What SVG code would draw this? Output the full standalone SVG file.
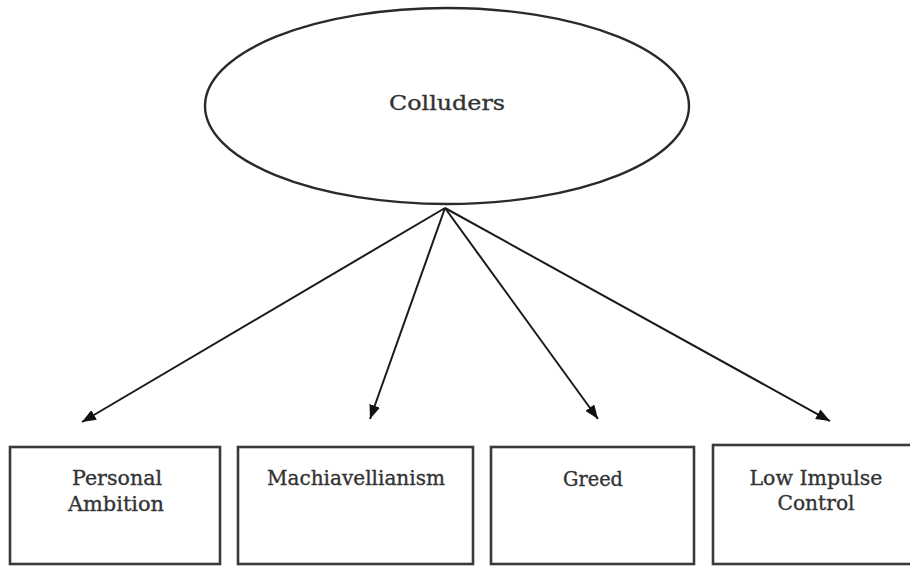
<svg xmlns="http://www.w3.org/2000/svg" width="910" height="567" viewBox="0 0 910 567">
  <style>
    .shape { fill: #ffffff; stroke: #2a2a2a; }
    .box { stroke-width: 2.6; stroke: #3a3a3a; }
    .oval { stroke-width: 2.4; }
    .label { font-family: "DejaVu Serif", "Liberation Serif", serif; font-size: 21px; fill: #333333; stroke: #333333; stroke-width: 0.35; text-anchor: middle; }
    .edge { stroke: #1a1a1a; stroke-width: 2; fill: none; marker-end: url(#head); }
  </style>
  <defs>
    <marker id="head" viewBox="0 0 14 11" refX="14" refY="5.5" markerWidth="14" markerHeight="11" markerUnits="userSpaceOnUse" orient="auto">
      <path d="M0,0 L14,5.5 L0,11 Z" fill="#111111"/>
    </marker>
  </defs>

  <rect width="910" height="567" fill="#ffffff"/>

  <g id="colluders">
    <ellipse class="shape oval" cx="447" cy="106" rx="242" ry="98"/>
    <text class="label" x="447" y="110" textLength="116" lengthAdjust="spacingAndGlyphs">Colluders</text>
  </g>

  <g id="edges">
    <line class="edge" x1="445" y1="208" x2="82" y2="422"/>
    <line class="edge" x1="445" y1="208" x2="370" y2="419"/>
    <line class="edge" x1="445" y1="208" x2="598" y2="419"/>
    <line class="edge" x1="445" y1="208" x2="830" y2="421"/>
  </g>

  <g id="personal-ambition">
    <rect class="shape box" x="10" y="447" width="210" height="117"/>
    <text class="label" x="117" y="485" textLength="90" lengthAdjust="spacingAndGlyphs">Personal</text>
    <text class="label" x="116" y="511" textLength="96" lengthAdjust="spacingAndGlyphs">Ambition</text>
  </g>

  <g id="machiavellianism">
    <rect class="shape box" x="238" y="447" width="235" height="117"/>
    <text class="label" x="356" y="485" textLength="178" lengthAdjust="spacingAndGlyphs">Machiavellianism</text>
  </g>

  <g id="greed">
    <rect class="shape box" x="491" y="447" width="203" height="117"/>
    <text class="label" x="593" y="486" textLength="60" lengthAdjust="spacingAndGlyphs">Greed</text>
  </g>

  <g id="low-impulse-control">
    <rect class="shape box" x="713" y="445" width="210" height="119"/>
    <text class="label" x="816" y="485" textLength="133" lengthAdjust="spacingAndGlyphs">Low Impulse</text>
    <text class="label" x="816" y="510" textLength="77" lengthAdjust="spacingAndGlyphs">Control</text>
  </g>
</svg>
